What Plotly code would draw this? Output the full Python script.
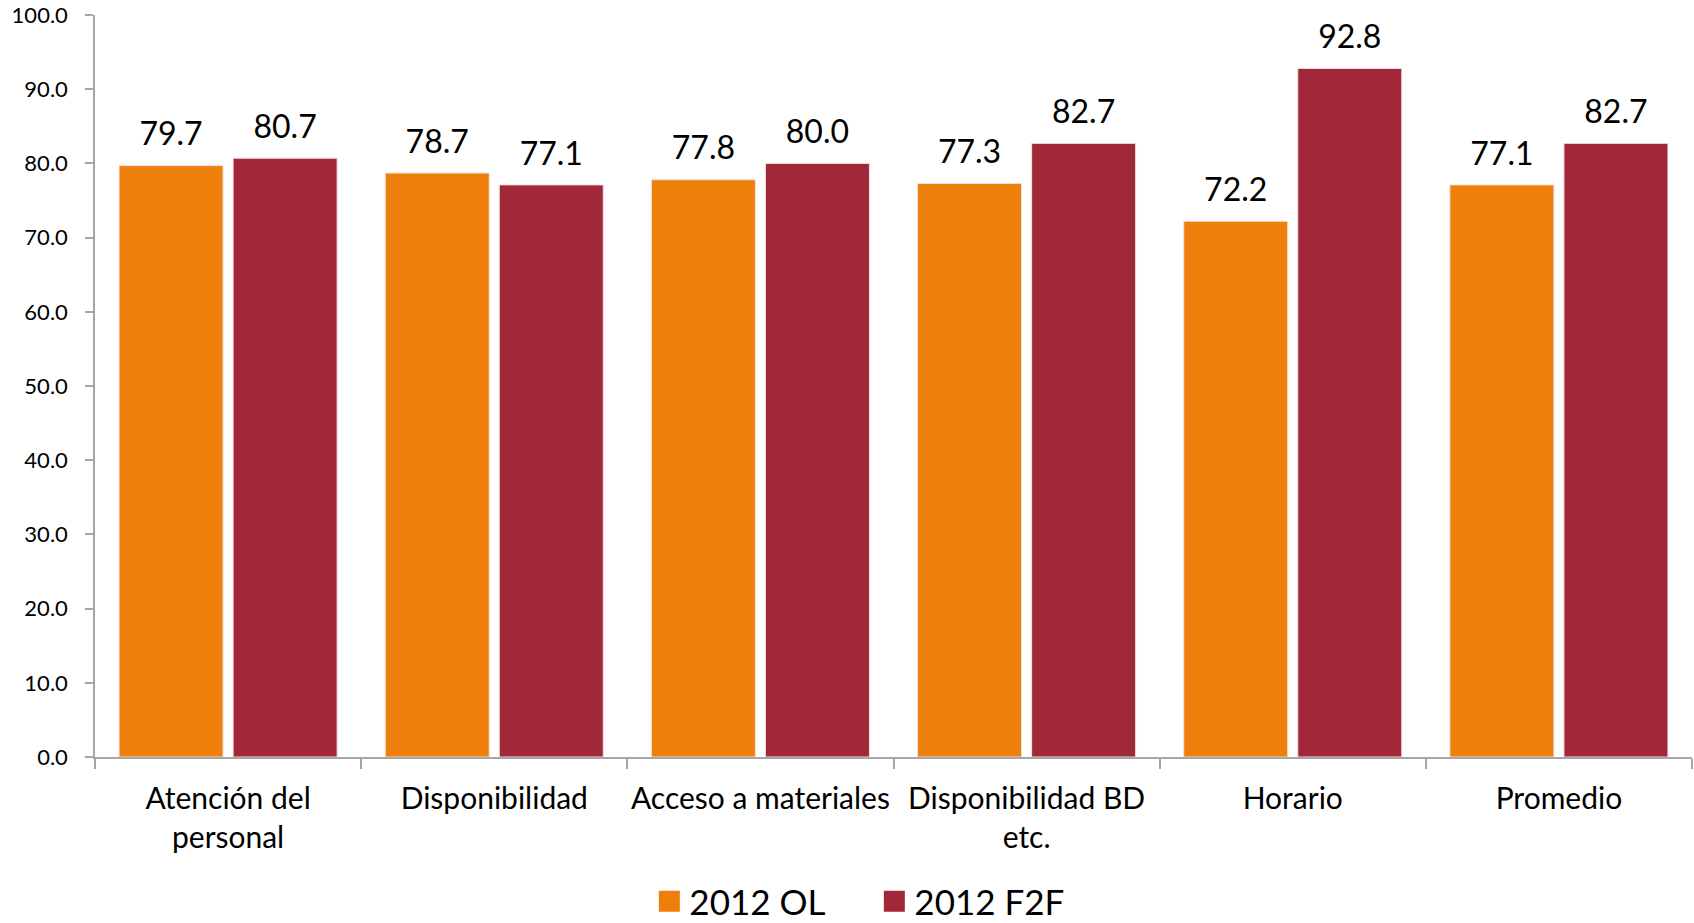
import plotly.graph_objects as go

# Survey categories and scores per modality
categories = ["Atención del<br>personal", "Disponibilidad", "Acceso a materiales",
              "Disponibilidad BD<br>etc.", "Horario", "Promedio"]
ol_2012 = [79.7, 78.7, 77.8, 77.3, 72.2, 77.1]
f2f_2012 = [80.7, 77.1, 80.0, 82.7, 92.8, 82.7]
series_names = ["2012 OL", "2012 F2F"]
y_ticks = [0, 10, 20, 30, 40, 50, 60, 70, 80, 90, 100]

FONT = "Lato, 'Open Sans', sans-serif"
ORANGE = "#EF7F0B"
WINE = "#A02838"
AXIS_GREY = "#A6A6A6"
BARGAP = 0.143

fig = go.Figure()
series = [(series_names[0], ol_2012, ORANGE), (series_names[1], f2f_2012, WINE)]

for name, vals, color in series:
    # bars
    fig.add_trace(go.Bar(
        x=categories,
        y=vals,
        name=name,
        offsetgroup=name,
        marker=dict(color=color, line=dict(color="#F3E0E0", width=1)),
        showlegend=False,
        hoverinfo="x+y",
    ))

for name, vals, color in series:
    # value labels sitting a little above each bar
    fig.add_trace(go.Scatter(
        x=categories,
        y=vals,
        offsetgroup=name,
        mode="markers+text",
        marker=dict(size=18, opacity=0, color=color),
        text=[f"{v:.1f}" for v in vals],
        textposition="top center",
        textfont=dict(family=FONT, size=32, color="#000000"),
        cliponaxis=False,
        showlegend=False,
        hoverinfo="skip",
    ))

for name, vals, color in series:
    # legend swatches
    fig.add_trace(go.Scatter(
        x=[None],
        y=[None],
        name=name,
        mode="markers",
        marker=dict(symbol="square", size=24, color=color,
                    line=dict(color=color, width=5)),
    ))

fig.update_layout(
    width=1694,
    height=923,
    margin=dict(l=95, r=2, t=15, b=166, autoexpand=False),
    paper_bgcolor="white",
    plot_bgcolor="white",
    barmode="group",
    bargap=BARGAP,
    bargroupgap=0.088,
    scattermode="group",
    scattergap=BARGAP,
    showlegend=True,
    legend=dict(
        orientation="h",
        x=0.488,
        xanchor="center",
        y=-0.2345,
        yanchor="bottom",
        font=dict(family=FONT, size=35, color="#000000"),
        traceorder="normal",
        itemwidth=30,
        entrywidth=180,
    ),
    font=dict(family=FONT, color="#000000"),
)

fig.update_xaxes(
    showgrid=False,
    showline=True,
    linecolor=AXIS_GREY,
    linewidth=1.5,
    ticks="outside",
    tickson="boundaries",
    ticklen=10,
    tickcolor=AXIS_GREY,
    tickwidth=1.5,
    tickfont=dict(family=FONT, size=30, color="#000000"),
    tickangle=0,
    ticklabelstandoff=14,
)

fig.update_yaxes(
    range=[0, 100],
    tickvals=y_ticks,
    tickformat=".1f",
    showgrid=False,
    zeroline=False,
    showline=True,
    linecolor=AXIS_GREY,
    linewidth=1.5,
    ticks="outside",
    ticklen=8,
    tickcolor=AXIS_GREY,
    tickwidth=1.5,
    tickfont=dict(family=FONT, size=22, color="#000000"),
    ticklabelstandoff=13,
)

fig.write_html("out.html")
